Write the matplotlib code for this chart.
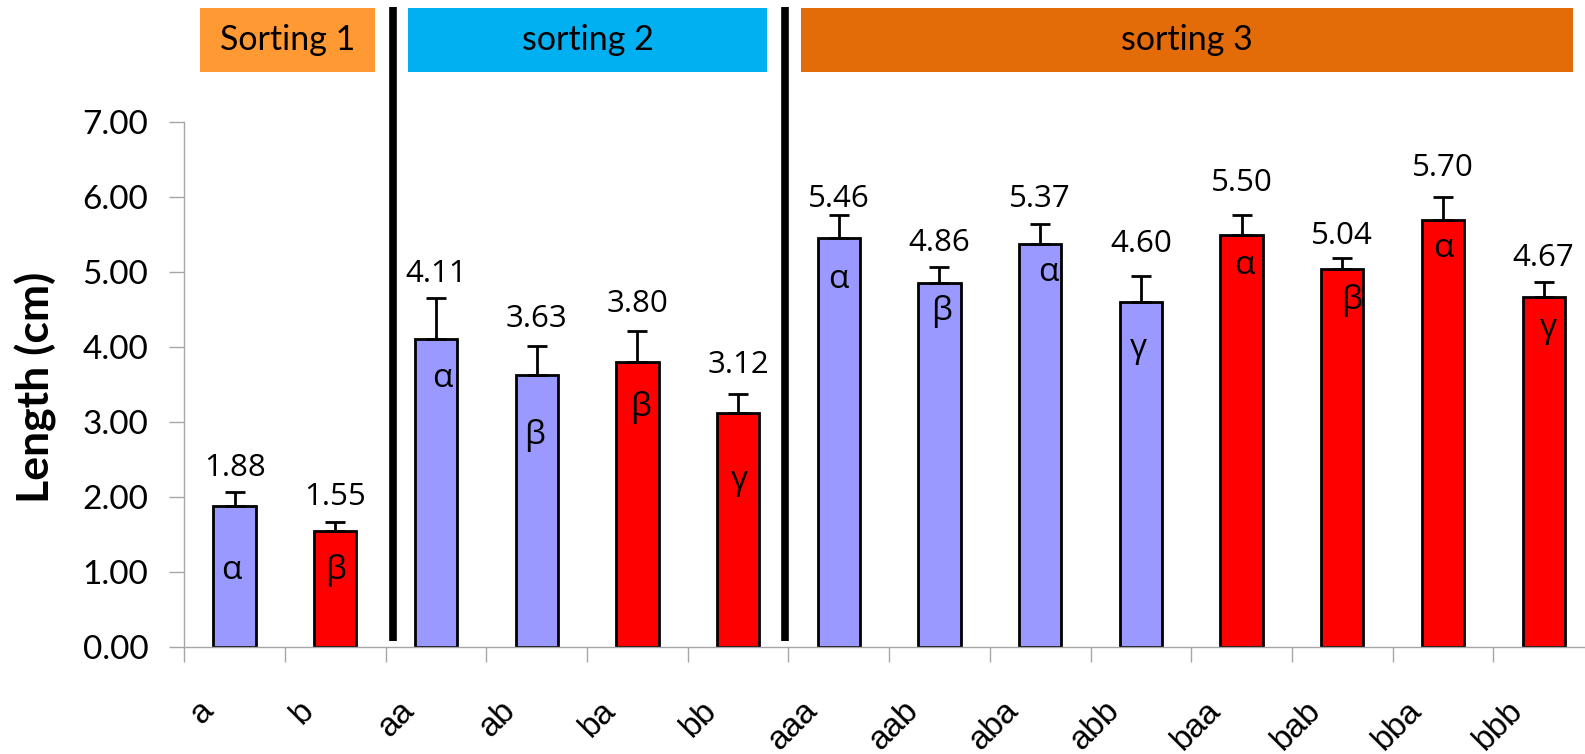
import matplotlib
matplotlib.use('Agg')
import numpy as np
import matplotlib.pyplot as plt
from matplotlib.patches import Rectangle
from matplotlib.transforms import ScaledTranslation

# mean length per sorting line, with standard error shown as the upper bar
groups = ['a', 'b', 'aa', 'ab', 'ba', 'bb',
          'aaa', 'aab', 'aba', 'abb', 'baa', 'bab', 'bba', 'bbb']
lengths = [1.88, 1.55, 4.11, 3.63, 3.80, 3.12,
           5.46, 4.86, 5.37, 4.60, 5.50, 5.04, 5.70, 4.67]
errors = [0.18, 0.11, 0.55, 0.38, 0.41, 0.26,
          0.31, 0.21, 0.28, 0.35, 0.27, 0.15, 0.30, 0.20]
letters = ['α', 'β', 'α', 'β', 'β', 'γ',
           'α', 'β', 'α', 'γ', 'α', 'β', 'α', 'γ']

headers = ['Sorting 1', 'sorting 2', 'sorting 3']
header_colors = ['#FF9933', '#00B0F0', '#E36C09']

# hand placed annotation layout (data units)
header_span = [(-0.344, 1.394), (1.722, 5.287), (5.62, 13.29)]
header_y = (7.673, 8.527)
separators = [1.573, 5.47, 13.43]
separator_bottom = [0.076, 0.076, 0.29]
label_pad = [0.22, 0.23, 0.21, 0.26, 0.26, 0.27,
             0.10, 0.21, 0.22, 0.32, 0.31, 0.19, 0.28, 0.21]
letter_dx = [-0.03, 0.0, 0.06, -0.02, 0.03, 0.01,
             0.0, 0.02, 0.08, -0.03, 0.03, 0.09, 0.0, 0.045]
letter_y = [1.02, 1.02, 3.58, 2.82, 3.20, 2.22,
            4.90, 4.47, 5.00, 3.98, 5.09, 4.62, 5.31, 4.25]

plt.rcParams['font.family'] = ['Lato', 'DejaVu Sans']
grey = '#A6A6A6'

fig = plt.figure(figsize=(15.85, 7.54), dpi=100)
ax = fig.add_axes([184.25 / 1585, 107.3 / 754, 1409.8 / 1585, 524.3 / 754])

x = np.arange(len(groups))
colors = ['#9999FF' if g[0] == 'a' else '#FF0000' for g in groups]
ax.bar(x, lengths, width=0.42, color=colors, edgecolor='black',
       linewidth=2, zorder=2)
ax.errorbar(x, lengths, yerr=[np.zeros(len(x)), errors], fmt='none',
            ecolor='black', elinewidth=2, capsize=7, capthick=2, zorder=3)

for xi, v, e, p in zip(x, lengths, errors, label_pad):
    ax.text(xi, v + e + p, '{:.2f}'.format(v), ha='center', va='baseline',
            fontsize=22.5, family=['Open Sans', 'DejaVu Sans'])

for xi, dx, ly, s in zip(x, letter_dx, letter_y, letters):
    ax.text(xi + dx, ly, s, ha='center', va='center', fontsize=24,
            family=['Open Sans', 'DejaVu Sans'], zorder=4)

# group banners and dividing bars above the plot
for (x0, x1), name, c in zip(header_span, headers, header_colors):
    ax.add_patch(Rectangle((x0, header_y[0]), x1 - x0, header_y[1] - header_y[0],
                           facecolor=c, edgecolor='none', clip_on=False))
    ax.text((x0 + x1) / 2, sum(header_y) / 2, name, ha='center', va='center',
            fontsize=24.5, clip_on=False)
ax.vlines(separators, separator_bottom, 8.54, colors='black',
          linewidth=5.5, clip_on=False, zorder=5)

ax.set_xlim(-0.5, 13.5)
ax.set_ylim(0, 7)
ax.set_yticks(range(8))
ax.yaxis.set_major_formatter(plt.FormatStrFormatter('%.2f'))
ax.tick_params(axis='y', length=11, width=1, color=grey, pad=15, labelsize=24)

ax.set_xticks(x)
ax.set_xticklabels(groups, family='Liberation Sans')
ax.set_xticks(np.arange(-0.5, 14, 1), minor=True)
ax.tick_params(axis='x', which='major', length=0, pad=47, labelsize=24)
ax.tick_params(axis='x', which='minor', length=11, width=1, color=grey)
shift = ScaledTranslation(-0.2, 0, fig.dpi_scale_trans)
for lbl in ax.get_xticklabels():
    lbl.set_rotation(45)
    lbl.set_ha('right')
    lbl.set_va('baseline')
    lbl.set_rotation_mode('anchor')
    lbl.set_transform(lbl.get_transform() + shift)

for side in ['top', 'right']:
    ax.spines[side].set_visible(False)
for side in ['left', 'bottom']:
    ax.spines[side].set_color(grey)
    ax.spines[side].set_linewidth(1)

fig.text(36 / 1585, 1 - 387.5 / 754, 'Length (cm)', rotation=90,
         ha='center', va='center', fontsize=32, fontweight='bold')

fig.savefig('out.png', dpi=100)
